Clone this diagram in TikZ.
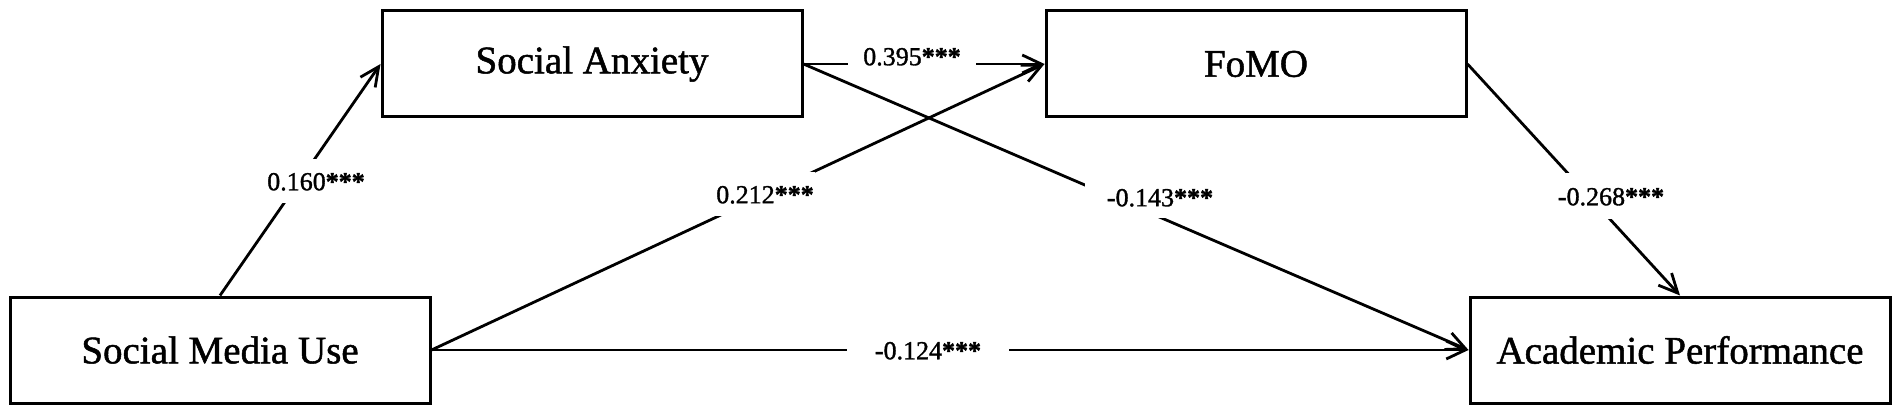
\documentclass[tikz,border=0pt]{standalone}
\usepackage{fontspec}
\setmainfont{Liberation Serif}
\newfontfamily\boxfont{Liberation Serif}[FakeBold=1.3]
\newfontfamily\lblfont{Liberation Serif}[FakeBold=1.3]
\usetikzlibrary{arrows.meta}
\begin{document}
\begin{tikzpicture}[x=1pt,y=-1pt,
  varbox/.style={draw=black, line width=3pt, minimum width=420pt, minimum height=106pt, inner sep=0pt, font=\boxfont\fontsize{39pt}{44pt}\selectfont},
  arr/.style={line width=2.8pt, -{Straight Barb[length=19pt,width=18pt]}},
  lbl/.style={fill=white, font=\lblfont\fontsize{26pt}{30pt}\selectfont, text height=18.5pt, text depth=0pt},
]
\useasboundingbox (0,0) rectangle (1902,414);
\node[varbox] (smu) at (220,350) {Social Media Use};
\node[varbox] (sa) at (592,64) {Social Anxiety};
\node[varbox] (fomo) at (1256,64) {FoMO};
\node[varbox] (ap) at (1680,350) {Academic Performance};

\draw[arr] (smu.north) -- (sa.west);
\draw[arr] (sa.east) -- (fomo.west);
\draw[arr] (smu.east) -- (fomo.west);
\draw[arr] (sa.east) -- (ap.west);
\draw[arr] (fomo.east) -- (ap.north);
\draw[arr] (smu.east) -- (ap.west);

\node[lbl, inner xsep=3pt, inner ysep=12.5pt] (l1) at (316,181) {0.160\textbf{***}};
\node[lbl, inner xsep=15pt, inner ysep=4pt] (l2) at (912,56) {0.395\textbf{***}};
\node[lbl, inner xsep=1pt, inner ysep=13pt] (l3) at (765,194) {0.212\textbf{***}};
\node[lbl, inner xsep=22pt, inner ysep=12pt] (l4) at (1160,197) {-0.143\textbf{***}};
\node[lbl, inner xsep=3pt, inner ysep=13.5pt] (l5) at (1611,196) {-0.268\textbf{***}};
\node[lbl, inner xsep=28pt, inner ysep=4pt] (l6) at (928,350) {-0.124\textbf{***}};
\end{tikzpicture}
\end{document}
